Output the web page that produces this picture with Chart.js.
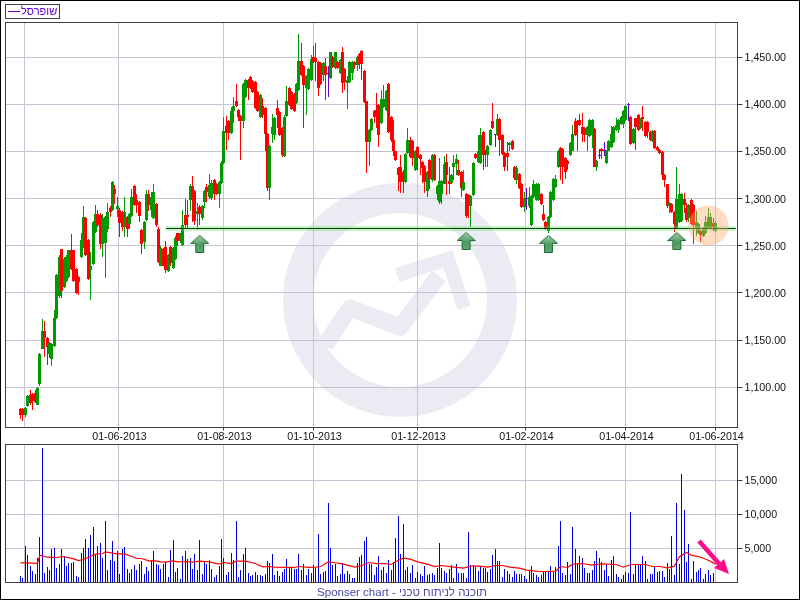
<!DOCTYPE html>
<html>
<head>
<meta charset="utf-8">
<title>שופרסל</title>
<script src="https://cdn.jsdelivr.net/npm/chart.js@4"></script>
<style>
    body { margin: 0; background: #fff; }
    #page { position: relative; width: 800px; height: 600px; overflow: hidden; background: #fff; font-family: "Liberation Sans", Arial, sans-serif; }
    canvas { position: absolute; left: 0; }
    #priceChart { top: 0; }
    #volumeChart { top: 440px; }
    #edge { position: absolute; left: 0; top: 0; width: 798px; height: 598px; border: 1px solid #000; }
    #legend { position: absolute; left: 5px; top: 4px; width: 53px; height: 13px; border: 1px solid #404040; color: #6600cc; font-size: 11px; line-height: 13px; white-space: nowrap; }
    #legend i { position: absolute; left: 2px; top: 6px; width: 12px; height: 1px; background: #6600cc; }
    #legend span { position: absolute; left: 15px; top: 0; }
    #footer { position: absolute; left: 0; width: 804px; top: 585px; text-align: center; color: #4a4aa8; font-size: 11.5px; line-height: 14px; }
</style>
</head>
<body>
<div id="page">
    <canvas id="priceChart" width="800" height="450"></canvas>
    <canvas id="volumeChart" width="800" height="160"></canvas>
    <div id="legend"><i></i><span>שופרסל</span></div>
    <div id="footer">Sponser chart - תוכנה לניתוח טכני</div>
    <div id="edge"></div>
</div>
<script>
// daily candles
const opens = [
    1077,1077,1070,1080,1092,1093,1094,1081,1103,1141,
    1160,1152,1135,1130,1144,1173,1197,1247,1206,1213,
    1217,1245,1245,1225,1217,1238,1249,1279,1256,1224,
    1231,1265,1284,1283,1252,1253,1268,1290,1288,1310,
    1289,1288,1286,1270,1281,1273,1282,1313,1298,1296,
    1267,1254,1277,1305,1288,1279,1294,1268,1229,1247,
    1249,1223,1249,1226,1236,1263,1255,1251,1283,1283,
    1298,1313,1308,1284,1291,1279,1296,1312,1302,1301,
    1320,1316,1305,1317,1338,1377,1382,1370,1393,1404,
    1394,1388,1382,1408,1426,1429,1425,1424,1413,1387,
    1398,1396,1369,1311,1368,1367,1396,1392,1375,1345,
    1388,1417,1413,1411,1401,1415,1446,1441,1417,1416,
    1426,1450,1449,1445,1444,1431,1441,1432,1428,1450,
    1438,1445,1433,1455,1437,1423,1424,1433,1445,1442,
    1453,1457,1435,1403,1360,1373,1393,1394,1399,1380,
    1397,1394,1422,1387,1362,1350,1332,1334,1328,1318,
    1348,1362,1361,1330,1355,1346,1339,1335,1308,1341,
    1320,1346,1305,1296,1305,1316,1339,1319,1317,1334,
    1337,1330,1328,1309,1305,1304,1292,1304,1347,1339,
    1338,1371,1351,1346,1357,1382,1367,1367,1384,1367,
    1348,1348,1357,1361,1334,1320,1326,1316,1291,1300,
    1292,1272,1302,1298,1298,1305,1284,1275,1266,1280,
    1298,1312,1333,1354,1353,1343,1340,1346,1351,1382,
    1382,1383,1376,1375,1367,1366,1367,1374,1334,1345,
    1353,1351,1338,1351,1355,1360,1373,1373,1379,1379,
    1383,1399,1387,1359,1385,1389,1375,1387,1381,1381,
    1371,1361,1372,1355,1352,1349,1325,1315,1292,1294,
    1286,1269,1275,1276,1300,1290,1279,1299,1293,1268,
    1263,1266,1260,1263,1269,1269,1274,1266
];
const closes = [
    1071,1070,1078,1091,1083,1085,1084,1099,1135,1160,
    1152,1143,1147,1146,1173,1219,1238,1202,1236,1238,
    1245,1225,1213,1200,1212,1256,1281,1240,1215,1228,
    1275,1284,1272,1252,1279,1280,1286,1286,1318,1305,
    1292,1274,1270,1286,1268,1284,1302,1293,1293,1282,
    1252,1275,1305,1293,1302,1307,1272,1233,1248,1229,
    1224,1240,1232,1248,1258,1255,1263,1272,1272,1281,
    1313,1298,1276,1287,1284,1292,1308,1307,1314,1317,
    1305,1305,1318,1338,1372,1370,1370,1393,1398,1398,
    1387,1382,1422,1426,1417,1417,1413,1396,1393,1410,
    1389,1368,1311,1356,1376,1385,1389,1367,1346,1387,
    1404,1399,1395,1393,1422,1446,1431,1421,1430,1437,
    1448,1445,1445,1417,1422,1444,1431,1432,1455,1440,
    1455,1438,1447,1423,1424,1426,1445,1445,1442,1450,
    1443,1443,1402,1360,1373,1384,1387,1389,1367,1406,
    1406,1414,1371,1362,1350,1341,1325,1318,1318,1347,
    1362,1344,1343,1351,1343,1342,1332,1318,1328,1321,
    1346,1320,1313,1319,1319,1337,1325,1316,1325,1338,
    1342,1325,1311,1318,1282,1293,1303,1338,1343,1351,
    1367,1346,1347,1356,1373,1375,1367,1384,1362,1347,
    1334,1344,1359,1353,1322,1332,1311,1291,1301,1300,
    1302,1303,1316,1316,1316,1294,1277,1268,1281,1307,
    1321,1321,1351,1333,1334,1328,1337,1359,1368,1367,
    1378,1378,1368,1367,1376,1383,1383,1334,1340,1345,
    1350,1351,1351,1361,1369,1376,1378,1383,1387,1393,
    1398,1399,1358,1374,1376,1373,1384,1384,1366,1371,
    1362,1372,1354,1352,1348,1325,1320,1292,1295,1286,
    1273,1300,1305,1305,1293,1277,1293,1273,1272,1275,
    1273,1261,1269,1275,1280,1280,1270,1274
];
const highs = [
    1078,1078,1079,1092,1097,1094,1097,1100,1136,1172,
    1170,1153,1148,1147,1182,1220,1240,1247,1238,1240,
    1246,1262,1246,1226,1218,1264,1292,1280,1257,1243,
    1276,1293,1288,1285,1284,1282,1295,1292,1319,1314,
    1302,1290,1287,1302,1282,1285,1310,1314,1305,1297,
    1268,1276,1309,1309,1307,1315,1295,1270,1250,1248,
    1255,1241,1250,1249,1260,1264,1264,1288,1300,1298,
    1315,1324,1309,1295,1293,1293,1309,1315,1326,1320,
    1321,1317,1319,1340,1387,1388,1383,1397,1408,1422,
    1395,1389,1423,1427,1427,1430,1426,1425,1414,1411,
    1407,1397,1370,1357,1390,1387,1405,1393,1376,1389,
    1419,1418,1414,1412,1423,1475,1465,1442,1431,1438,
    1452,1462,1465,1446,1445,1445,1449,1441,1456,1451,
    1456,1446,1448,1461,1438,1430,1446,1446,1446,1451,
    1454,1458,1436,1404,1374,1385,1394,1412,1400,1415,
    1420,1415,1423,1388,1383,1351,1333,1346,1330,1348,
    1375,1365,1362,1352,1356,1347,1340,1336,1329,1342,
    1347,1347,1314,1343,1320,1345,1347,1334,1326,1346,
    1347,1341,1329,1330,1306,1305,1304,1339,1348,1367,
    1375,1372,1352,1357,1374,1401,1369,1390,1385,1368,
    1349,1360,1360,1362,1335,1335,1327,1317,1307,1311,
    1312,1304,1320,1317,1317,1306,1293,1276,1282,1308,
    1322,1325,1352,1355,1354,1344,1341,1360,1378,1386,
    1383,1390,1391,1376,1377,1384,1384,1375,1341,1353,
    1354,1360,1352,1362,1377,1377,1385,1384,1388,1394,
    1399,1401,1388,1375,1386,1390,1385,1398,1382,1382,
    1372,1373,1373,1356,1353,1350,1326,1316,1296,1295,
    1287,1333,1315,1306,1306,1295,1294,1300,1294,1287,
    1274,1267,1270,1282,1290,1285,1279,1276
];
const lows = [
    1066,1064,1068,1079,1081,1076,1083,1081,1101,1140,
    1132,1123,1131,1122,1143,1172,1195,1195,1205,1212,
    1216,1224,1212,1199,1198,1237,1248,1239,1214,1192,
    1230,1264,1270,1247,1238,1216,1265,1280,1287,1294,
    1281,1259,1266,1259,1259,1268,1281,1292,1285,1275,
    1241,1247,1276,1287,1280,1278,1270,1232,1228,1228,
    1221,1222,1228,1225,1235,1250,1253,1250,1268,1269,
    1287,1275,1272,1267,1272,1277,1290,1296,1300,1299,
    1298,1304,1290,1316,1337,1352,1362,1369,1380,1397,
    1382,1341,1375,1407,1405,1416,1412,1395,1392,1386,
    1385,1351,1308,1299,1359,1362,1375,1366,1344,1344,
    1387,1398,1394,1392,1400,1414,1430,1375,1389,1415,
    1425,1444,1425,1409,1421,1425,1405,1408,1427,1439,
    1437,1437,1432,1412,1415,1395,1423,1426,1437,1435,
    1437,1426,1401,1327,1335,1372,1380,1375,1355,1379,
    1396,1393,1370,1360,1345,1340,1308,1306,1306,1317,
    1347,1343,1335,1329,1330,1325,1317,1306,1302,1310,
    1318,1319,1298,1294,1294,1315,1304,1305,1316,1320,
    1325,1324,1302,1308,1279,1279,1270,1303,1342,1338,
    1337,1330,1334,1333,1356,1374,1355,1366,1345,1346,
    1329,1329,1350,1352,1320,1315,1310,1290,1286,1288,
    1290,1271,1301,1297,1297,1293,1276,1267,1264,1279,
    1297,1311,1332,1320,1315,1321,1330,1345,1350,1366,
    1351,1377,1360,1360,1350,1365,1354,1333,1329,1342,
    1342,1345,1337,1350,1354,1359,1372,1370,1378,1375,
    1382,1382,1357,1358,1352,1372,1374,1372,1365,1364,
    1361,1360,1353,1351,1347,1320,1312,1290,1285,1285,
    1265,1268,1274,1275,1285,1275,1275,1272,1252,1260,
    1262,1254,1259,1262,1268,1268,1266,1265
];
const volumes = [
    930,640,5340,4020,2400,1670,1230,3580,6660,19750,
    1370,2250,1810,4900,5050,2110,2700,4900,3870,2400,
    2840,2840,2990,930,780,4310,5050,6370,5050,6960,
    8130,4020,5340,5780,3580,9020,1810,3280,6080,3140,
    4610,1230,4900,5190,1960,1370,1960,2550,1810,2700,
    3140,1230,2250,1670,3140,4610,2700,2550,1960,2700,
    2990,780,4750,6220,1520,2110,490,3870,4610,3430,
    3580,1960,4170,1810,6220,1230,2990,2700,3280,1960,
    780,1080,2400,6370,3580,1080,1520,4310,3280,9020,
    780,1810,4170,5050,1370,930,1080,1520,1080,1080,
    930,1230,3140,2840,
    4170,1080,1670,930,1520,1960,3430,2250,2250,1960,
    1960,4170,1810,2700,1080,1960,1370,2550,2110,7110,
    1230,1520,1670,11660,5050,2550,2700,930,1230,2840,
    1230,1670,1230,640,640,2840,3720,4020,6080,6660,
    2700,2700,1080,2250,3870,1810,2250,1370,3280,1810,
    2990,6520,9750,4170,8580,1810,2250,1370,2550,640,
    1520,1230,930,2400,1080,1230,1370,1080,2110,5780,
    2110,1670,1370,1960,2550,640,2700,1370,1370,1370,
    640,7400,2550,2550,2250,1670,2250,2110,2110,1520,
    1960,4020,4900,3140,3140,780,1960,1670,1230,780,
    1670,1230,1230,1230,930,490,1670,2400,1370,
    1080,780,1080,1670,1670,1670,2400,1520,2250,5340,
    9020,1370,1080,2990,1230,8130,4900,2700,3870,3580,
    2110,1370,1370,1810,3140,4610,3580,2990,1810,2700,
    930,3280,3870,1230,780,490,1080,1520,1370,10340,
    1230,2700,2550,2550,3870,3140,490,1230,1230,2250,
    1520,1670,1670,780,2840,1960,6810,1080,11660,2700,
    15930,10630,2990,5640,490,3140,1520,1810,2110,490,
    1230,1810,1080,1370,100
];

// the red average under the volume bars, read at its bends
const avgDays = [
    0,2,5,7,8,11,15,17,21,24,26,29,31,34,35,38,40,43,46,48,50,53,55,58,60,63,65,68,71,74,78,82,84,87,89,93,97,100,103,
    105,109,113,115,119,122,124,127,129,133,138,141,144,147,151,153,156,158,161,164,168,171,174,178,183,186,189,193,196,199,202,206,209,212,
    214,217,221,223,226,228,232,236,240,246,249,252,258,261,264,267,270,272,275,277,281,284,287
];
const avgValues = [
    2890,2890,2840,2790,4020,3720,3680,3820,3580,3230,3380,3870,4170,4260,4510,4310,4210,4210,3820,3530,3530,3190,3230,3040,2990,3190,3040,3090,2990,3140,3040,2700,2940,2790,3140,3140,2790,2300,2350,
    2250,2210,2210,2350,2210,2250,2350,3040,2940,2740,2250,2500,2940,2790,2790,2650,3280,3580,3430,3040,2700,2350,2500,2300,2110,2400,2400,2250,2500,2500,2250,2110,1810,1720,
    1620,1620,1670,2350,2210,2700,2790,2550,2740,2650,2250,2650,2650,2350,2350,2160,2400,3770,4410,4020,3720,3280,2700
];

const priceTicks = [1100, 1150, 1200, 1250, 1300, 1350, 1400, 1450];
const volumeTicks = [5000, 10000, 15000];
const monthDays = [1.65, 40.47, 83.83, 121, 163.94, 208.54, 249.83, 287];
const monthLabels = ['', '01-06-2013', '01-08-2013', '01-10-2013', '01-12-2013', '01-02-2014', '01-04-2014', '01-06-2014'];

const supportLevel = 1268.3;
const supportDays = [60, 295.4];
const arrowDays = [74, 184, 218, 271];
const arrowLevels = [1252, 1255, 1252, 1255];
const circleDay = 284.1;
const circleLevel = 1271.5;

const GRID = '#c6c3d6';
const FRAME = '#404040';
const days = opens.map((v, i) => i);
const candleColors = days.map(i => opens[i] === closes[i] ? '#6600cc' : (closes[i] > opens[i] ? '#009900' : '#ff0000'));

Chart.defaults.font.family = '"Liberation Sans", Arial, sans-serif';
Chart.defaults.font.size = 10.67;
Chart.defaults.color = '#111';
Chart.defaults.animation = false;

// bars land on whole pixels so they stay sharp like the original
const snapBars = {
    id: 'snapBars',
    afterDatasetsUpdate(chart) {
        chart.getSortedVisibleDatasetMetas().forEach(meta => {
            if (meta.type !== 'bar') return;
            meta.data.forEach(el => {
                el.x = Math.floor(el.x) + 0.5;
                el.y = Math.round(el.y);
                el.base = Math.round(el.base);
                if (el.y === el.base) el.y = el.base - 1;
            });
        });
    }
};

const frame = {
    id: 'frame',
    afterDatasetsDraw(chart) {
        const a = chart.chartArea, ctx = chart.ctx;
        ctx.save();
        ctx.strokeStyle = FRAME;
        ctx.lineWidth = 1;
        ctx.strokeRect(a.left, a.top, a.right - a.left, a.bottom - a.top);
        ctx.restore();
    }
};

const watermark = {
    id: 'watermark',
    beforeDraw(chart) {
        const ctx = chart.ctx;
        ctx.save();
        ctx.strokeStyle = '#ebebf4';
        ctx.lineWidth = 30;
        ctx.beginPath();
        ctx.arc(400, 300, 102, 0, Math.PI * 2);
        ctx.stroke();
        ctx.lineWidth = 17;
        ctx.lineJoin = 'round';
        ctx.beginPath();
        ctx.moveTo(325, 345);
        ctx.lineTo(350, 308);
        ctx.lineTo(400, 327);
        ctx.lineTo(439, 276);
        ctx.stroke();
        ctx.lineWidth = 14;
        ctx.lineJoin = 'miter';
        ctx.beginPath();
        ctx.moveTo(397, 275);
        ctx.lineTo(448, 259);
        ctx.lineTo(464, 308);
        ctx.stroke();
        ctx.restore();
    }
};

const pinkArrow = {
    id: 'pinkArrow',
    afterDatasetsDraw(chart) {
        const ctx = chart.ctx;
        ctx.save();
        ctx.strokeStyle = ctx.fillStyle = '#ff0a8c';
        ctx.lineWidth = 4.5;
        ctx.beginPath();
        ctx.moveTo(699, 101);
        ctx.lineTo(722, 127);
        ctx.stroke();
        ctx.beginPath();
        ctx.moveTo(729, 134);
        ctx.lineTo(714, 128);
        ctx.lineTo(724, 119);
        ctx.closePath();
        ctx.fill();
        ctx.restore();
    }
};

function makeArrow() {
    const c = document.createElement('canvas');
    c.width = 19;
    c.height = 18;
    const ctx = c.getContext('2d');
    const g = ctx.createLinearGradient(0, 0, 0, 18);
    g.addColorStop(0, '#a8d0ae');
    g.addColorStop(0.55, '#4f9c62');
    g.addColorStop(1, '#5dab70');
    ctx.fillStyle = g;
    ctx.strokeStyle = '#1e6b33';
    ctx.beginPath();
    ctx.moveTo(9.5, 0.5);
    ctx.lineTo(18.5, 8.5);
    ctx.lineTo(13.5, 8.5);
    ctx.lineTo(13.5, 17.5);
    ctx.lineTo(5.5, 17.5);
    ctx.lineTo(5.5, 8.5);
    ctx.lineTo(0.5, 8.5);
    ctx.closePath();
    ctx.fill();
    ctx.stroke();
    return c;
}

function xAxis(labels) {
    return {
        type: 'linear',
        offset: false,
        min: -6.194,
        max: 296.08,
        afterBuildTicks: s => { s.ticks = monthDays.map(v => ({ value: v })); },
        afterFit: s => {
            s.height = labels ? 22.5 : 17.5;
            s.paddingLeft = 0;
            s.paddingRight = 0;
        },
        border: { display: false },
        grid: {
            color: GRID,
            offset: false,
            tickColor: c => c.index === 0 ? 'transparent' : FRAME,
            tickLength: labels ? 3 : 0,
            drawTicks: labels
        },
        ticks: { autoSkip: false, maxRotation: 0, padding: 0, labelOffset: 1, callback: (v, i) => labels ? monthLabels[i] : '' }
    };
}

new Chart(document.getElementById('priceChart'), {
    type: 'bar',
    data: {
        datasets: [
            { type: 'scatter', data: [{ x: circleDay, y: circleLevel }], pointRadius: 20, pointHoverRadius: 20, borderWidth: 0, backgroundColor: 'rgba(255,170,110,0.4)', order: 0 },
            { type: 'scatter', data: arrowDays.map((d, i) => ({ x: d, y: arrowLevels[i] })), pointStyle: makeArrow(), pointRadius: 9, order: 1 },
            { type: 'line', data: supportDays.map(d => ({ x: d, y: supportLevel })), borderColor: '#004000', borderWidth: 1, pointRadius: 0, order: 2 },
            { type: 'line', data: supportDays.map(d => ({ x: d, y: supportLevel })), borderColor: 'rgba(110,225,110,0.35)', borderWidth: 5, pointRadius: 0, order: 3 },
            { data: days.map(i => ({ x: i, y: [opens[i], closes[i]] })), backgroundColor: candleColors, barThickness: 3, minBarLength: 1, inflateAmount: 0, grouped: false, order: 4 },
            { data: days.map(i => ({ x: i, y: [lows[i], highs[i]] })), backgroundColor: candleColors, barThickness: 1, inflateAmount: 0, grouped: false, order: 5 }
        ]
    },
    options: {
        responsive: false,
        devicePixelRatio: 1,
        layout: { autoPadding: false, padding: { left: 5.5, top: 22.5, right: 0, bottom: 0 } },
        plugins: { legend: { display: false }, tooltip: { enabled: false } },
        scales: {
            x: xAxis(true),
            y: {
                position: 'right',
                min: 1057.24,
                max: 1486.78,
                afterBuildTicks: s => { s.ticks = priceTicks.map(v => ({ value: v })); },
                afterFit: s => { s.width = 62.5; s.paddingTop = 0; s.paddingBottom = 0; },
                border: { display: false },
                grid: { color: GRID, tickColor: FRAME, tickLength: 5 },
                ticks: { padding: 2, labelOffset: 1, callback: v => v.toLocaleString('en-US', { minimumFractionDigits: 2 }) }
            }
        }
    },
    plugins: [snapBars, watermark, frame]
});

new Chart(document.getElementById('volumeChart'), {
    type: 'bar',
    data: {
        datasets: [
            { type: 'line', data: avgDays.map((d, i) => ({ x: d, y: avgValues[i] })), borderColor: '#ff0000', borderWidth: 1.2, pointRadius: 0, order: 0 },
            { data: days.map(i => ({ x: i, y: volumes[i] })), backgroundColor: '#0000dd', barThickness: 1, inflateAmount: 0, grouped: false, order: 1 }
        ]
    },
    options: {
        responsive: false,
        devicePixelRatio: 1,
        layout: { autoPadding: false, padding: { left: 5.5, top: 4.5, right: 0, bottom: 0 } },
        plugins: { legend: { display: false }, tooltip: { enabled: false } },
        scales: {
            x: xAxis(false),
            y: {
                position: 'right',
                min: 0,
                max: 20294,
                afterBuildTicks: s => { s.ticks = volumeTicks.map(v => ({ value: v })); },
                afterFit: s => { s.width = 62.5; s.paddingTop = 0; s.paddingBottom = 0; },
                border: { display: false },
                grid: { color: GRID, tickColor: FRAME, tickLength: 5 },
                ticks: { padding: 2, labelOffset: 1, callback: v => v.toLocaleString('en-US') }
            }
        }
    },
    plugins: [snapBars, frame, pinkArrow]
});
</script>
</body>
</html>
